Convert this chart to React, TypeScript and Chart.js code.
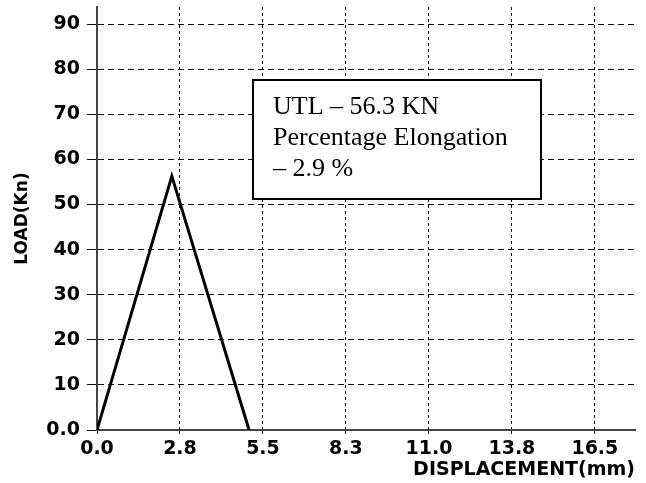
import React, { useEffect, useRef } from "react";
import { Chart, registerables } from "chart.js";

Chart.register(...registerables);

// Data
const displacement = [0, 2.48, 5.04];
const load = [0, 56.3, 0];

const xTickValues = [0, 2.75, 5.5, 8.25, 11, 13.75, 16.5];
const xTickLabels = ["0.0", "2.8", "5.5", "8.3", "11.0", "13.8", "16.5"];
const yTickValues = [0, 10, 20, 30, 40, 50, 60, 70, 80, 90];
const yTickLabels = ["0.0", "10", "20", "30", "40", "50", "60", "70", "80", "90"];

const annotationLines = ["UTL \u2013 56.3 KN", "Percentage Elongation", "\u2013 2.9 %"];

const xTitle = "DISPLACEMENT(mm)";
const yTitle = "LOAD(Kn)";

const annotationPlugin = {
  id: "utlBox",
  afterDatasetsDraw(chart: any) {
    const { ctx, scales } = chart;
    const xs = scales.x;
    const ys = scales.y;
    const left = Math.round(xs.getPixelForValue(5.17));
    const right = Math.round(xs.getPixelForValue(14.71));
    const top = Math.round(ys.getPixelForValue(77.6));
    const bottom = Math.round(ys.getPixelForValue(51.3));
    ctx.save();
    ctx.fillStyle = "#ffffff";
    ctx.fillRect(left, top, right - left, bottom - top);
    ctx.lineWidth = 2;
    ctx.strokeStyle = "#000000";
    ctx.strokeRect(left, top, right - left, bottom - top);
    ctx.fillStyle = "#000000";
    ctx.font = '26px "Liberation Serif"';
    ctx.textBaseline = "alphabetic";
    ctx.textAlign = "left";
    annotationLines.forEach((line, i) => {
      ctx.fillText(line, left + 20, top + 34 + i * 31);
    });
    ctx.restore();
  },
};

export default function App() {
  const canvasRef = useRef<HTMLCanvasElement | null>(null);

  useEffect(() => {
    if (!canvasRef.current) return;
    Chart.defaults.font.family = "DejaVu Sans";
    const chart = new Chart(canvasRef.current, {
      type: "line",
      data: {
        datasets: [
          {
            data: displacement.map((x, i) => ({ x, y: load[i] })),
            borderColor: "#000000",
            borderWidth: 3,
            pointRadius: 0,
            tension: 0,
            fill: false,
          },
        ],
      },
      options: {
        animation: false,
        responsive: true,
        maintainAspectRatio: false,
        layout: { padding: { left: 0, right: 11, top: 7, bottom: 0 } },
        plugins: {
          legend: { display: false },
          tooltip: { enabled: false },
        },
        scales: {
          x: {
            type: "linear",
            min: 0,
            max: 17.83,
            afterBuildTicks: (axis: any) => {
              axis.ticks = xTickValues.map((v) => ({ value: v }));
            },
            afterFit: (axis: any) => {
              axis.height = 53;
              axis.paddingLeft = 0;
              axis.paddingRight = 0;
            },
            ticks: {
              autoSkip: false,
              maxRotation: 0,
              padding: 4,
              color: "#000000",
              font: { size: 19, weight: "bold", family: "DejaVu Sans" },
              callback: (_v: any, i: number) => xTickLabels[i],
            },
            grid: {
              color: "#111111",
              lineWidth: 1,
              tickLength: 4,
              tickColor: "#111111",
              tickWidth: 1,
            },
            border: { display: true, color: "#444444", width: 2, dash: [3, 3] },
            title: {
              display: true,
              text: xTitle,
              align: "end",
              color: "#000000",
              font: { size: 19, weight: "bold", family: "DejaVu Sans" },
              padding: { top: 0, bottom: 2 },
            },
          },
          y: {
            type: "linear",
            min: 0,
            max: 93.8,
            afterBuildTicks: (axis: any) => {
              axis.ticks = yTickValues.map((v) => ({ value: v }));
            },
            afterFit: (axis: any) => {
              axis.width = 97;
              axis.paddingTop = 0;
              axis.paddingBottom = 0;
            },
            ticks: {
              autoSkip: false,
              padding: 7,
              color: "#000000",
              font: { size: 19, weight: "bold", family: "DejaVu Sans" },
              callback: (_v: any, i: number) => yTickLabels[i],
            },
            grid: {
              color: "#111111",
              lineWidth: 1,
              tickLength: 10,
              tickColor: "#111111",
              tickWidth: 1,
            },
            border: { display: true, color: "#444444", width: 2, dash: [6, 4] },
            title: {
              display: true,
              text: yTitle,
              color: "#000000",
              font: { size: 17, weight: "bold", family: "DejaVu Sans" },
              padding: { top: 12, bottom: 0 },
            },
          },
        },
      },
      plugins: [annotationPlugin],
    } as any);
    return () => chart.destroy();
  }, []);

  return (
    <div
      style={{
        position: "absolute",
        left: 0,
        top: 0,
        width: 646,
        height: 483,
        background: "#ffffff",
      }}
    >
      <canvas ref={canvasRef} />
    </div>
  );
}
